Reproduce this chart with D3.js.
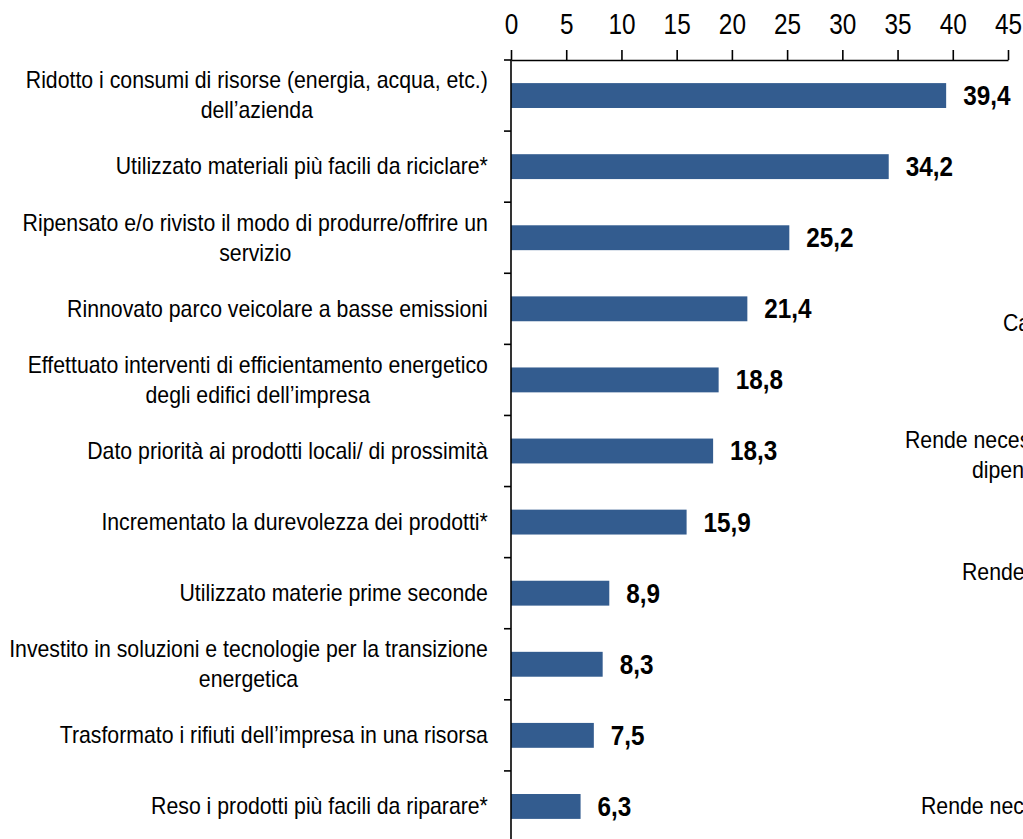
<!DOCTYPE html>
<html>
<head>
<meta charset="utf-8">
<script src="https://cdn.jsdelivr.net/npm/d3@7"></script>
<style>
  html, body { margin: 0; padding: 0; background: #fff; overflow: hidden; }
  text { font-family: "Liberation Sans Narrow", "Liberation Sans", Arial, sans-serif; fill: #000; }
</style>
</head>
<body>
<div id="chart"></div>
<script>
var categories = [
    ['Ridotto i consumi di risorse (energia, acqua, etc.)', 'dell\u2019azienda'],
    ['Utilizzato materiali più facili da riciclare*'],
    ['Ripensato e/o rivisto il modo di produrre/offrire un', 'servizio'],
    ['Rinnovato parco veicolare a basse emissioni'],
    ['Effettuato interventi di efficientamento energetico', 'degli edifici dell\u2019impresa'],
    ['Dato priorità ai prodotti locali/ di prossimità'],
    ['Incrementato la durevolezza dei prodotti*'],
    ['Utilizzato materie prime seconde'],
    ['Investito in soluzioni e tecnologie per la transizione', 'energetica'],
    ['Trasformato i rifiuti dell\u2019impresa in una risorsa'],
    ['Reso i prodotti più facili da riparare*']
];
var values = [39.4, 34.2, 25.2, 21.4, 18.8, 18.3, 15.9, 8.9, 8.3, 7.5, 6.3];
var xTicks = [0, 5, 10, 15, 20, 25, 30, 35, 40, 45];

// pezzi del grafico accanto, tagliati dal bordo destro
var sideLabels = ['Ca', 'Rende necessario', 'dipendenti', 'Rende', 'Rende necessario'];
var sideX = [1003, 905, 972, 962, 921];
var sideY = [323, 440, 470, 572, 806];

var W = 1023, H = 839;
var x0 = 511, x1 = 1008, yTop = 60, yBottom = 842;
var sxTick = 0.84, sxLab = 0.925, sxVal = 0.9; // testo schiacciato in orizzontale

var svg = d3.select('#chart').append('svg')
    .attr('width', W)
    .attr('height', H);

var xScale = d3.scaleLinear()
    .domain([0, 45])
    .range([x0, x1]);

var yScale = d3.scaleBand()
    .domain(d3.range(categories.length))
    .range([yTop, yBottom])
    .paddingInner(0.65)
    .paddingOuter(0.325);

// bars
svg.selectAll('rect.bar')
    .data(values)
    .enter()
    .append('rect')
    .attr('class', 'bar')
    .attr('x', xScale(0))
    .attr('y', function(d, i){ return yScale(i); })
    .attr('width', function(d){ return xScale(d) - xScale(0); })
    .attr('height', yScale.bandwidth())
    .attr('fill', '#335c8f');

// x axis
var xAxis = d3.axisTop()
    .scale(xScale)
    .tickValues(xTicks)
    .tickSizeInner(10)
    .tickSizeOuter(0)
    .tickPadding(16)
    .tickFormat(d3.format('d'));
var gx = svg.append('g')
    .attr('transform', 'translate(0,' + yTop + ')')
    .call(xAxis);
gx.select('.domain').attr('stroke', '#000').attr('stroke-width', 1.6);
gx.selectAll('.tick line').attr('stroke', '#000').attr('stroke-width', 1.6);
gx.selectAll('.tick text')
    .attr('font-size', 29)
    .attr('font-family', '"Liberation Sans Narrow", "Liberation Sans", Arial, sans-serif')
    .attr('fill', '#000')
    .attr('transform', 'scale(' + sxTick + ',1)');

// y axis: line plus ticks at band boundaries
var step = yScale.step();
var yTicks = d3.range(categories.length).map(function(i){ return yTop + i * step; });
svg.append('line')
    .attr('x1', x0).attr('x2', x0)
    .attr('y1', yTop).attr('y2', H)
    .attr('stroke', '#000').attr('stroke-width', 1.6);
svg.selectAll('line.ytick')
    .data(yTicks)
    .enter()
    .append('line')
    .attr('class', 'ytick')
    .attr('x1', x0 - 7).attr('x2', x0)
    .attr('y1', function(d){ return d; })
    .attr('y2', function(d){ return d; })
    .attr('stroke', '#000').attr('stroke-width', 1.6);

// category labels, lines centred, block right aligned
var labelRight = 488, lineH = 30;
categories.forEach(function(lines, i){
    var cy = yScale(i) + yScale.bandwidth() / 2;
    var g = svg.append('g');
    var t = g.selectAll('text')
        .data(lines)
        .enter()
        .append('text')
        .attr('font-size', 23)
        .attr('text-anchor', 'middle')
        .attr('dominant-baseline', 'central')
        .attr('y', function(d, j){ return cy + (j - (lines.length - 1) / 2) * lineH; })
        .text(function(d){ return d; });
    var maxW = 0;
    t.each(function(){ maxW = Math.max(maxW, this.getComputedTextLength()); });
    var cx = (labelRight - maxW * sxLab / 2) / sxLab;
    t.attr('x', cx);
    g.attr('transform', 'scale(' + sxLab + ',1)');
});

// value labels
svg.selectAll('text.val')
    .data(values)
    .enter()
    .append('text')
    .attr('class', 'val')
    .attr('x', function(d){ return (xScale(d) + 17) / sxVal; })
    .attr('y', function(d, i){ return yScale(i) + yScale.bandwidth() / 2; })
    .attr('transform', 'scale(' + sxVal + ',1)')
    .attr('dominant-baseline', 'central')
    .attr('font-size', 27)
    .attr('font-weight', 'bold')
    .text(function(d){ return d3.format('.1f')(d).replace('.', ','); });

// side labels
svg.selectAll('text.side')
    .data(sideLabels)
    .enter()
    .append('text')
    .attr('class', 'side')
    .attr('x', function(d, i){ return sideX[i] / sxLab; })
    .attr('y', function(d, i){ return sideY[i]; })
    .attr('transform', 'scale(' + sxLab + ',1)')
    .attr('dominant-baseline', 'central')
    .attr('font-size', 23)
    .text(function(d){ return d; });
</script>
</body>
</html>
